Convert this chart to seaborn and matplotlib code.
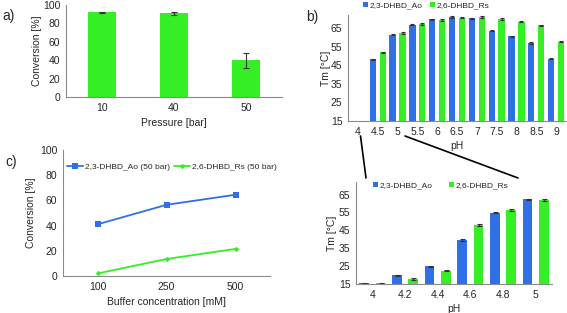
import numpy as np
import pandas as pd
import matplotlib
matplotlib.use("Agg")
import matplotlib.pyplot as plt
from matplotlib.lines import Line2D
from matplotlib.container import BarContainer
import seaborn as sns

# a) conversion vs pressure
pressure = ['10', '40', '50']
conversion = [92, 91, 40]
conversion_err = [0.7, 1.5, 8]

# b) Tm vs pH (wide range)
ph_b = ['4', '4.5', '5', '5.5', '6', '6.5', '7', '7.5', '8', '8.5', '9']
tm_ao_b = [np.nan, 48.2, 61.4, 66.8, 69.7, 71.0, 70.2, 63.6, 60.5, 57.0, 48.6]
tm_rs_b = [np.nan, 52.0, 62.3, 67.2, 69.3, 70.6, 71.0, 69.9, 68.4, 66.4, 57.6]

# c) conversion vs buffer concentration
buffer_conc = ['100', '250', '500']
conv_ao = [41, 56.5, 64.5]
conv_rs = [2, 13.5, 21.5]

# d) Tm vs pH (zoom 4-5)
ph_d = ['4', '4.2', '4.4', '4.6', '4.8', '5']
tm_ao_d = [15.3, 19.8, 24.8, 39.6, 54.8, 62.4]
tm_rs_d = [15.3, 17.8, 22.4, 48.0, 56.3, 62.0]

enzymes = ['2,3-DHBD_Ao', '2,6-DHBD_Rs']
BLUE = '#2f70e6'
GREEN = '#36ee26'

sns.set_style('white')
plt.rcParams['font.family'] = ['Liberation Sans', 'DejaVu Sans']
plt.rcParams['font.size'] = 7.5

W, H = 567, 313
fig = plt.figure(figsize=(W / 100, H / 100), dpi=100)


def box(left, top, right, bottom):
    return [left / W, 1 - bottom / H, (right - left) / W, (bottom - top) / H]


def style_axes(ax):
    sns.despine(ax=ax)
    for s in ['left', 'bottom']:
        ax.spines[s].set_color('#8a8a8a')
        ax.spines[s].set_linewidth(0.8)
    ax.tick_params(length=0, labelsize=7.5, pad=4)


def tm_frame(ph, ao, rs):
    return pd.DataFrame({
        'pH': ph * 2,
        'Tm': list(ao) + list(rs),
        'enzyme': [enzymes[0]] * len(ph) + [enzymes[1]] * len(ph),
    })


def add_caps(ax, err=0.35, cap=1.5):
    bars = [c for c in ax.containers if isinstance(c, BarContainer)]
    for cont in bars:
        for p in cont.patches:
            h = p.get_height()
            if np.isnan(h):
                continue
            ax.errorbar(p.get_x() + p.get_width() / 2, h, yerr=err, fmt='none',
                        ecolor='#333333', elinewidth=0.8, capsize=cap, capthick=0.8)


# ---- a)
ax_a = fig.add_axes(box(66, 5, 282, 97))
sns.barplot(x=pressure, y=conversion, color=GREEN, width=0.4, saturation=1,
            ax=ax_a, edgecolor='none')
ax_a.errorbar(range(len(pressure)), conversion, yerr=conversion_err, fmt='none',
              ecolor='#333333', elinewidth=0.8, capsize=2.5, capthick=0.8)
ax_a.set_ylim(0, 100)
ax_a.set_yticks(range(0, 101, 20))
ax_a.set_xlim(-0.5, 2.5)
ax_a.set_xlabel('Pressure [bar]', fontsize=7.5, labelpad=4)
ax_a.set_ylabel('Conversion [%]', fontsize=7.5, labelpad=1)
style_axes(ax_a)
fig.text(2 / W, 1 - 16 / H, 'a)', fontsize=10, va='center')

# ---- b)
ax_b = fig.add_axes(box(348, 15, 566, 121))
sns.barplot(data=tm_frame(ph_b, tm_ao_b, tm_rs_b), x='pH', y='Tm', hue='enzyme',
            order=ph_b, palette=[BLUE, GREEN], width=1.0, gap=0.36, saturation=1,
            ax=ax_b, edgecolor='none', errorbar=None)
add_caps(ax_b, cap=1.3)
ax_b.set_ylim(15, 72)
ax_b.set_yticks(range(15, 66, 10))
ax_b.set_xlim(-0.5, 10.5)
ax_b.set_xlabel('pH', fontsize=7.5, labelpad=3)
ax_b.set_ylabel('Tm [°C]', fontsize=7.5, labelpad=0)
style_axes(ax_b)
ax_b.legend(loc='center left', bbox_to_anchor=(12 / 218, 1 + 9 / 106), ncol=2,
            frameon=False, fontsize=6, handlelength=0.55, handleheight=0.55,
            handletextpad=0.2, columnspacing=0.9, borderaxespad=0)
fig.text(306 / W, 1 - 17 / H, 'b)', fontsize=10, va='center')

# ---- c)
ax_c = fig.add_axes(box(63, 150, 270, 276))
sns.lineplot(x=buffer_conc, y=conv_ao, color=BLUE, marker='s', markersize=4.5,
             markeredgewidth=0, linewidth=1.3, label=enzymes[0] + ' (50 bar)', ax=ax_c)
sns.lineplot(x=buffer_conc, y=conv_rs, color=GREEN, marker='D', markersize=2.8,
             markeredgewidth=0, linewidth=1.3, label=enzymes[1] + ' (50 bar)', ax=ax_c)
ax_c.set_ylim(0, 100)
ax_c.set_yticks(range(0, 101, 20))
ax_c.set_xlim(-0.5, 2.5)
ax_c.set_xlabel('Buffer concentration [mM]', fontsize=7.5, labelpad=4)
ax_c.set_ylabel('Conversion [%]', fontsize=7.5, labelpad=3)
style_axes(ax_c)
ax_c.legend(loc='center left', bbox_to_anchor=(0.005, 1 - 17 / 126), ncol=2,
            frameon=False, fontsize=6, handlelength=1.9, handletextpad=0.2,
            columnspacing=0.5, borderaxespad=0)
fig.text(5 / W, 1 - 162 / H, 'c)', fontsize=10, va='center')

# ---- d)
ax_d = fig.add_axes(box(356, 182, 552, 284))
sns.barplot(data=tm_frame(ph_d, tm_ao_d, tm_rs_d), x='pH', y='Tm', hue='enzyme',
            order=ph_d, palette=[BLUE, GREEN], width=1.0, gap=0.4, saturation=1,
            ax=ax_d, edgecolor='none', errorbar=None)
add_caps(ax_d, cap=1.8)
ax_d.set_ylim(15, 72)
ax_d.set_yticks(range(15, 66, 10))
ax_d.set_xlim(-0.5, 5.5)
ax_d.set_xlabel('pH', fontsize=7.5, labelpad=3)
ax_d.set_ylabel('Tm [°C]', fontsize=7.5, labelpad=1)
style_axes(ax_d)
ax_d.legend(loc='center left', bbox_to_anchor=(14 / 196, 1 - 4 / 102), ncol=2,
            frameon=False, fontsize=6, handlelength=0.55, handleheight=0.55,
            handletextpad=0.2, columnspacing=2.0, borderaxespad=0)

# connector lines from b) pH 4-5 to the zoomed panel d)
for (x0, y0), (x1, y1) in [((360.5, 136), (366, 178)), ((405, 136), (518, 178))]:
    fig.add_artist(Line2D([x0 / W, x1 / W], [1 - y0 / H, 1 - y1 / H],
                          color='black', linewidth=1.2, transform=fig.transFigure))

fig.savefig('out.png', dpi=100)
